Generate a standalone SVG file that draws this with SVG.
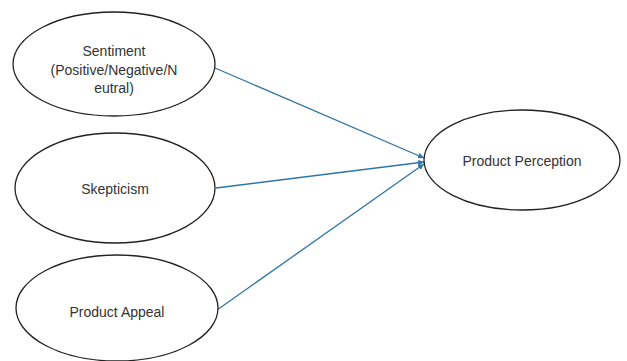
<svg xmlns="http://www.w3.org/2000/svg" width="627" height="361" viewBox="0 0 627 361">
<style>
.node ellipse{fill:#fff;stroke:#222;stroke-width:1.3}
.node text{font-family:"Liberation Sans",Arial,sans-serif;font-size:14px;fill:#333;text-anchor:middle}
.edge{stroke:#2E75A6;stroke-width:1.3;fill:none;marker-end:url(#ah)}
</style>
<defs>
<marker id="ah" viewBox="0 0 10 10" refX="10" refY="5" markerWidth="6" markerHeight="6" orient="auto" markerUnits="userSpaceOnUse">
<path d="M0,0 L10,5 L0,10 z" fill="#2E75A6"/>
</marker>
</defs>
<rect width="627" height="361" fill="#fff"/>
<g id="connectors">
<line class="edge" x1="215" y1="68" x2="424" y2="158"/>
<line class="edge" x1="216" y1="188" x2="424" y2="162"/>
<line class="edge" x1="217" y1="310" x2="424" y2="164"/>
</g>
<g id="sentiment" class="node">
<ellipse cx="114" cy="64" rx="101" ry="52"/>
<text x="114" y="56">Sentiment</text>
<text x="114" y="75">(Positive/Negative/N</text>
<text x="114" y="93">eutral)</text>
</g>
<g id="skepticism" class="node">
<ellipse cx="115" cy="188" rx="100" ry="55"/>
<text x="115" y="194">Skepticism</text>
</g>
<g id="product-appeal" class="node">
<ellipse cx="117" cy="308" rx="101" ry="53"/>
<text x="117" y="317">Product Appeal</text>
</g>
<g id="product-perception" class="node">
<ellipse cx="522" cy="160" rx="98" ry="50"/>
<text x="522" y="166">Product Perception</text>
</g>
</svg>
